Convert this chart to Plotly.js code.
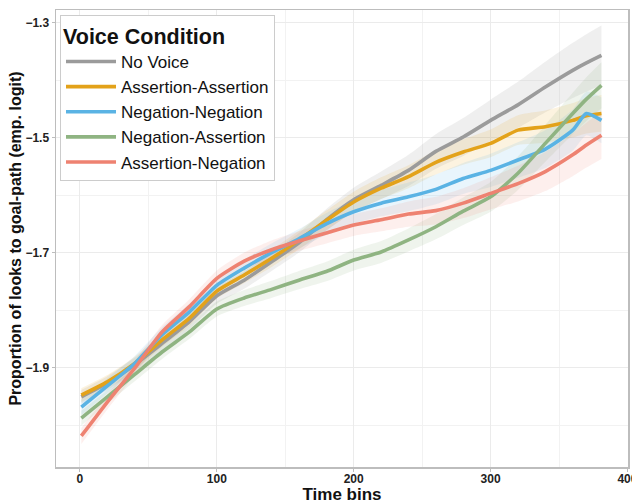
<!DOCTYPE html>
<html>
<head>
<meta charset="utf-8">
<script src="https://cdn.plot.ly/plotly-3.0.1.min.js"></script>
<style>html,body{margin:0;padding:0;background:#fff;}#chart{width:632px;height:504px;}</style>
</head>
<body>
<div id="chart"></div>
<script>
// Time bins where values were read
const timeBins = [1,20,40,60,80,100,120,140,160,180,200,220,240,260,280,300,320,340,360,370,381];

const seriesNames = ["No Voice","Assertion-Assertion","Negation-Negation","Negation-Assertion","Assertion-Negation"];

// Mean empirical logit per condition
const noVoice      = [-1.951,-1.927,-1.895,-1.858,-1.820,-1.775,-1.748,-1.716,-1.683,-1.643,-1.608,-1.583,-1.557,-1.524,-1.499,-1.470,-1.443,-1.412,-1.383,-1.370,-1.357];
const assertAssert = [-1.948,-1.925,-1.893,-1.852,-1.814,-1.767,-1.739,-1.710,-1.678,-1.644,-1.612,-1.588,-1.568,-1.543,-1.525,-1.510,-1.487,-1.481,-1.470,-1.462,-1.458];
const negNeg       = [-1.969,-1.932,-1.893,-1.843,-1.803,-1.757,-1.727,-1.700,-1.676,-1.650,-1.629,-1.614,-1.603,-1.590,-1.571,-1.557,-1.539,-1.520,-1.487,-1.458,-1.470];
const negAssert    = [-1.988,-1.951,-1.912,-1.873,-1.838,-1.798,-1.779,-1.764,-1.748,-1.733,-1.713,-1.699,-1.678,-1.655,-1.628,-1.603,-1.562,-1.510,-1.458,-1.433,-1.409];
const assertNeg    = [-2.019,-1.960,-1.901,-1.838,-1.794,-1.745,-1.715,-1.695,-1.680,-1.666,-1.652,-1.643,-1.633,-1.627,-1.614,-1.597,-1.580,-1.559,-1.530,-1.513,-1.496];

// Confidence band half-widths
const ciNoVoice      = [0.012,0.012,0.012,0.013,0.013,0.014,0.015,0.016,0.017,0.019,0.021,0.024,0.027,0.030,0.033,0.036,0.040,0.044,0.048,0.050,0.052];
const ciAssertAssert = [0.012,0.012,0.012,0.012,0.013,0.013,0.014,0.015,0.016,0.017,0.018,0.019,0.020,0.021,0.022,0.024,0.026,0.028,0.030,0.031,0.032];
const ciNegNeg       = [0.014,0.013,0.013,0.013,0.014,0.014,0.015,0.016,0.017,0.019,0.021,0.023,0.025,0.026,0.027,0.029,0.031,0.033,0.036,0.038,0.040];
const ciNegAssert    = [0.013,0.012,0.012,0.012,0.012,0.013,0.014,0.015,0.016,0.017,0.018,0.019,0.020,0.022,0.024,0.026,0.029,0.032,0.036,0.038,0.040];
const ciAssertNeg    = [0.014,0.013,0.012,0.012,0.013,0.014,0.015,0.016,0.017,0.018,0.019,0.020,0.022,0.024,0.026,0.028,0.031,0.034,0.037,0.039,0.041];

const lineColors = ["#9b9b9b","#e3a21a","#5ab3e4","#8fb482","#ee8271"];
const bandColors = ["rgba(160,160,160,0.17)","rgba(230,159,0,0.12)","rgba(86,180,233,0.13)","rgba(143,180,130,0.14)","rgba(238,130,113,0.13)"];

const allMeans = [noVoice, assertAssert, negNeg, negAssert, assertNeg];
const allCis = [ciNoVoice, ciAssertAssert, ciNegNeg, ciNegAssert, ciAssertNeg];

const traces = [];
allMeans.forEach((m, i) => {
  const lo = m.map((v, k) => v - allCis[i][k]);
  const hi = m.map((v, k) => v + allCis[i][k]);
  traces.push({x: timeBins, y: lo, type: "scatter", mode: "lines", line: {width: 0, color: bandColors[i], shape: "spline", smoothing: 0.6}, showlegend: false, hoverinfo: "skip"});
  traces.push({x: timeBins, y: hi, type: "scatter", mode: "lines", line: {width: 0, color: bandColors[i], shape: "spline", smoothing: 0.6}, fill: "tonexty", fillcolor: bandColors[i], showlegend: false, hoverinfo: "skip"});
});
allMeans.forEach((m, i) => {
  traces.push({x: timeBins, y: m, type: "scatter", mode: "lines", name: seriesNames[i], legendgroup: "g" + i, legendrank: i + 1,
    line: {color: lineColors[i], width: 3.6, shape: "spline", smoothing: 0.6}});
});

const fontFam = "Liberation Sans, Arial, sans-serif";
const layout = {
  width: 632, height: 504,
  margin: {l: 56, r: 4, t: 10, b: 37},
  paper_bgcolor: "#ffffff", plot_bgcolor: "#ffffff",
  font: {family: fontFam, color: "#111"},
  showlegend: true,
  xaxis: {
    range: [-17.5, 400.4], tick0: 0, dtick: 100, tickmode: "linear",
    showgrid: true, gridcolor: "#ebebeb", gridwidth: 1,
    minor: {dtick: 50, showgrid: true, gridcolor: "#f2f2f2", gridwidth: 1},
    zeroline: false, showline: true, mirror: true, linecolor: "#bdbdbd", linewidth: 1.5,
    ticks: "outside", ticklen: 3, tickcolor: "#bdbdbd", ticklabelstandoff: -3,
    ticklabeloverflow: "allow",
    tickfont: {size: 12, weight: "bold", color: "#222"},
    title: {text: "Time bins", font: {size: 17, weight: "bold", color: "#111"}, standoff: 2}
  },
  yaxis: {
    range: [-2.073, -1.278], tick0: -1.3, dtick: 0.2, tickmode: "linear",
    tickformat: ".1f",
    showgrid: true, gridcolor: "#ebebeb", gridwidth: 1,
    minor: {dtick: 0.1, showgrid: true, gridcolor: "#f2f2f2", gridwidth: 1},
    zeroline: false, showline: true, mirror: true, linecolor: "#bdbdbd", linewidth: 1.5,
    ticks: "outside", ticklen: 3, tickcolor: "#bdbdbd",
    tickfont: {size: 12, weight: "bold", color: "#222"},
    title: {text: "Proportion of looks to goal-path (emp. logit)", font: {size: 16, weight: "bold", color: "#111"}, standoff: 0}
  },
  legend: {
    x: 0.007, y: 0.989, xanchor: "left", yanchor: "top",
    traceorder: "normal",
    bgcolor: "#ffffff", bordercolor: "#cccccc", borderwidth: 1,
    title: {text: "Voice Condition", font: {size: 21.5, weight: "bold", color: "#111"}},
    font: {size: 17, color: "#111"},
    itemwidth: 50, tracegroupgap: 3
  }
};

Plotly.newPlot("chart", traces, layout, {displayModeBar: false, staticPlot: true});
</script>
</body>
</html>
